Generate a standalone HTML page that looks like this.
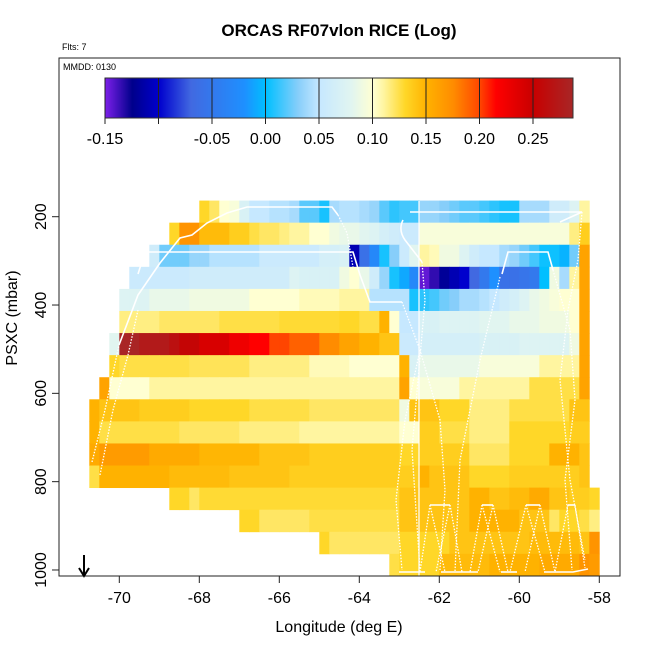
<!DOCTYPE html>
<html><head><meta charset="utf-8"><style>
body{margin:0;background:#fff}
svg text{font-family:"Liberation Sans",sans-serif}
</style></head><body>
<svg id="chart" width="650" height="650" viewBox="0 0 650 650" xmlns="http://www.w3.org/2000/svg">
<g id="cells"></g>
<g id="tracks" fill="none" stroke="#fff" stroke-width="1.6"></g>
<g id="axes"></g>
<g id="cbar"></g>
<text x="339" y="36" text-anchor="middle" font-size="17" font-weight="bold">ORCAS RF07vlon RICE (Log)</text>
<text x="62" y="50" font-size="9">Flts: 7</text>
<text x="63" y="70" font-size="9">MMDD: 0130</text>
<text x="339" y="632" text-anchor="middle" font-size="16">Longitude (deg E)</text>
<text transform="translate(17,318) rotate(-90)" text-anchor="middle" font-size="16">PSXC (mbar)</text>
</svg>
<script>
// Heatmap data: each row = [start column index, values...]; columns are 0.25 deg starting at -70.75; rows 50 mbar starting at 163.5
const lonStart = -70.75, lonStep = 0.25;
const presStart = 163.5, presStep = 50;
const row0 = [11,.13,.12,.10,.095,.07,.05,.05,.045,.045,.04,.02,.02,.005,.04,.045,.045,.04,.035,.02,.01,.015,.015,.035,.035,.03,.025,.02,.02,.015,.01,.005,.005,.04,.04,.04,.06,.06,.075,.11];
const row1 = [8,.13,.17,.17,.145,.145,.145,.135,.135,.125,.12,.12,.115,.11,.11,.1,.1,.09,.085,.085,.08,.075,.065,.06,.055,.055,.095,.095,.095,.095,.095,.095,.095,.095,.095,.095,.095,.095,.095,.095,.095,.115,.135];
const row2 = [6,.06,.025,.025,.025,.035,.035,.045,.045,.045,.045,.045,.055,.055,.055,.055,.055,.055,.065,.065,.07,-.11,-.06,-.03,.005,.03,.055,.08,.11,.105,.09,.09,.075,.06,.05,.05,.04,.035,.025,.015,.003,.003,-.005,.025,.16];
const row3 = [4,.055,.055,.055,.055,.055,.055,.06,.06,.06,.06,.06,.06,.06,.06,.06,.06,.075,.07,.07,.07,.07,.09,.1,.085,.06,.035,.005,-.01,-.03,-.145,-.135,-.12,-.11,-.1,-.07,-.05,-.02,-.06,-.06,-.055,-.05,.0,.09,.04,.11,.16];
const row4 = [3,.075,.075,.075,.085,.085,.085,.085,.09,.09,.09,.09,.09,.09,.1,.1,.1,.1,.1,.105,.105,.105,.105,.11,.11,.11,.045,.045,.045,.045,.005,.01,.015,.025,.03,.04,.04,.045,.05,.06,.065,.075,.085,.09,.095,.1,.1,.16];
const row5 = [3,.115,.115,.115,.115,.12,.12,.12,.12,.12,.12,.125,.125,.125,.125,.125,.125,.128,.128,.128,.128,.128,.128,.13,.13,.125,.125,.15,.1,.05,.05,.07,.07,.075,.075,.075,.075,.08,.08,.08,.085,.085,.085,.09,.09,.09,.1,.16];
const row6 = [2,.08,.285,.285,.275,.275,.275,.265,.255,.255,.24,.24,.24,.225,.225,.215,.215,.2,.2,.19,.19,.19,.175,.175,.16,.16,.15,.15,.14,.14,.055,.055,.065,.065,.065,.065,.065,.065,.07,.07,.07,.07,.075,.075,.075,.075,.075,.09,.16];
const row7 = [2,.13,.125,.125,.125,.125,.125,.125,.125,.122,.122,.122,.122,.122,.122,.115,.115,.115,.115,.115,.115,.105,.105,.105,.105,.1,.1,.1,.1,.1,.15,.07,.085,.085,.085,.085,.085,.085,.095,.095,.095,.095,.095,.095,.11,.11,.11,.11,.16];
const row8 = [1,.16,.1,.1,.1,.1,.11,.11,.11,.11,.11,.11,.11,.11,.11,.11,.11,.11,.11,.11,.11,.11,.11,.11,.11,.11,.11,.11,.11,.11,.11,.16,.1,.095,.095,.095,.095,.11,.11,.11,.11,.11,.11,.11,.125,.125,.125,.125,.125,.16];
const row9 = [0,.15,.14,.14,.14,.14,.135,.135,.135,.135,.135,.13,.13,.13,.13,.13,.13,.125,.125,.125,.125,.125,.125,.12,.12,.12,.12,.12,.12,.12,.12,.12,.09,.14,.14,.14,.13,.13,.13,.115,.115,.115,.115,.125,.125,.125,.125,.125,.125,.14,.14];
const row10 = [0,.15,.125,.125,.125,.125,.125,.125,.125,.125,.12,.12,.12,.12,.12,.12,.115,.115,.115,.115,.115,.115,.11,.11,.11,.11,.11,.11,.11,.11,.11,.11,.1,.1,.135,.135,.125,.125,.125,.115,.115,.115,.115,.13,.13,.13,.13,.13,.13,.135,.135];
const row11 = [0,.155,.165,.165,.165,.165,.165,.155,.155,.155,.155,.155,.148,.148,.148,.148,.148,.148,.14,.14,.14,.14,.14,.135,.135,.135,.135,.135,.135,.135,.135,.135,.13,.13,.135,.135,.135,.135,.135,.12,.12,.12,.12,.13,.13,.13,.13,.15,.15,.15,.14];
const row12 = [0,.125,.15,.15,.15,.15,.15,.15,.15,.145,.145,.145,.145,.145,.145,.14,.14,.14,.14,.14,.14,.135,.135,.135,.135,.135,.135,.135,.135,.135,.135,.135,.135,.135,.15,.14,.14,.14,.14,.13,.13,.13,.13,.135,.135,.135,.135,.135,.135,.135,.14];
const row13 = [8,.13,.13,.12,.128,.128,.128,.128,.128,.128,.128,.128,.128,.128,.128,.128,.128,.128,.128,.128,.128,.128,.128,.128,.14,.14,.14,.14,.14,.14,.14,.15,.15,.14,.14,.145,.145,.155,.155,.14,.14,.135,.135,.13];
const row14 = [15,.13,.13,.12,.12,.12,.12,.12,.125,.125,.125,.125,.125,.125,.125,.125,.125,.14,.14,.14,.14,.14,.14,.14,.15,.15,.15,.15,.15,.14,.14,.14,.12,.13,.13,.125,.115];
const row15 = [23,.13,.12,.12,.12,.12,.12,.12,.12,.13,.13,.13,.13,.13,.14,.14,.14,.14,.14,.14,.14,.14,.145,.145,.145,.145,.145,.14,.17];
const row16 = [30,.125,.13,.13,.13,.13,.145,.145,.145,.145,.145,.15,.15,.15,.15,.15,.155,.155,.155,.155,.17,.165];
const rows = [row0,row1,row2,row3,row4,row5,row6,row7,row8,row9,row10,row11,row12,row13,row14,row15,row16];
const xTicks = [-70,-68,-66,-64,-62,-60,-58];
const yTicks = [200,400,600,800,1000];
const cbTicks = [-0.15,-0.10,-0.05,0.00,0.05,0.10,0.15,0.20,0.25];
const cbLabels = ["-0.15","","-0.05","0.00","0.05","0.10","0.15","0.20","0.25"];

const NS="http://www.w3.org/2000/svg";
const xS = lon => 119.3 + (lon+70)*40;
const yS = p => 216.7 + (p-200)*0.4416;
const cbX = v => 105 + (v+0.15)*1070;
const stops=[[-0.15,[123,31,232]],[-0.125,[0,0,139]],[-0.10,[0,0,205]],[-0.07,[65,105,225]],[-0.02,[30,144,255]],[0.0,[0,191,255]],[0.03,[135,206,250]],[0.05,[198,232,255]],[0.08,[225,245,240]],[0.10,[255,255,210]],[0.11,[255,245,160]],[0.13,[255,215,40]],[0.15,[255,178,0]],[0.175,[255,140,0]],[0.20,[255,69,0]],[0.215,[255,0,0]],[0.25,[200,0,0]],[0.29,[165,42,42]]];
function col(v){
  if(v<=stops[0][0]) return 'rgb('+stops[0][1]+')';
  for(let i=1;i<stops.length;i++){ if(v<=stops[i][0]){const a=stops[i-1],b=stops[i];const t=(v-a[0])/(b[0]-a[0]);return 'rgb('+a[1].map((c,k)=>Math.round(c+(b[1][k]-c)*t)).join(',')+')';}}
  return 'rgb('+stops[stops.length-1][1]+')';
}
function mk(tag,attrs,parent){const e=document.createElementNS(NS,tag);for(const k in attrs)e.setAttribute(k,attrs[k]);parent.appendChild(e);return e;}

const cells=document.getElementById('cells');
rows.forEach((r,ri)=>{
  const y0=yS(presStart+ri*presStep), y1=yS(presStart+(ri+1)*presStep);
  for(let j=1;j<r.length;j++){
    const c=r[0]+j-1;
    const x0=xS(lonStart+c*lonStep), x1=xS(lonStart+(c+1)*lonStep);
    const e=mk('rect',{x:x0.toFixed(2),y:y0.toFixed(2),width:(x1-x0+0.4).toFixed(2),height:(y1-y0+0.4).toFixed(2),fill:col(r[j])},cells);
    
    
  }
});

// flight tracks (approximate)
const tr=document.getElementById('tracks');
const solid=[
 "M119,345 L138,295 L160,263 L180,238 L192,235 L207,223 L227,213 L247,207 L332,207 L338,215",
 "M138,274 L145,252 L353,252 L360,275 L370,302 L402,302",
 "M410,212 L582,212 L560,222",
 "M403,220 Q398,230 405,240 L422,262",
 "M502,274 L508,252 L548,252 L553,270",
 "M430,505 L450,505","M482,505 L493,505","M526,505 L540,505","M568,505 L575,505",
 "M399,572 L425,572","M441,572 L478,572","M501,572 L517,572","M544,572 L573,572 L588,569"
];
solid.forEach(d=>{const e=mk('path',{d:d},tr);});
const dotted=[
 "M92,462 L105,410 L119,345","M100,475 L113,410 L128,355 L138,310","M338,215 L347,233 L353,267",
 "M402,302 L420,350 L440,420 L445,490 L440,570","M420,350 L405,420 L396,500 L402,570",
 "M422,262 L425,300 L418,380 L412,450 L420,570",
 "M500,277 L480,360 L460,460 L455,572",
 "M553,270 L570,330 L575,400 L565,480 L572,570","M582,212 L578,260 L568,310 L560,380 L570,480 L585,560",
 "M430,505 L420,572","M430,505 L445,572","M450,505 L436,572","M450,505 L462,572",
 "M482,505 L470,572","M482,505 L500,572","M493,505 L478,572","M493,505 L508,572",
 "M526,505 L510,572","M526,505 L545,572","M540,505 L525,572","M540,505 L555,572",
 "M568,505 L555,572","M575,505 L585,568"
];
dotted.forEach(d=>{const e=mk('path',{d:d,'stroke-dasharray':'1.5,1.5','stroke-width':'1.3'},tr);});
const vl=mk('line',{x1:419,y1:201,x2:419,y2:576,'stroke-width':'1.2'},tr);



// axes
const ax=document.getElementById('axes');
const fr=mk('rect',{x:59,y:58,width:561,height:518,fill:'none',stroke:'#222','stroke-width':1},ax);


xTicks.forEach(v=>{
  const x=xS(v);
  const t=mk('line',{x1:x,y1:576,x2:x,y2:583,stroke:'#222'},ax);
  
  
  const l=mk('text',{x:x,y:603,'text-anchor':'middle','font-size':16},ax);l.textContent=String(v).replace('-','-');
  
  
});
yTicks.forEach(v=>{
  const y=yS(v);
  const t=mk('line',{x1:52,y1:y,x2:59,y2:y,stroke:'#222'},ax);
  
  
  const l=mk('text',{transform:'translate(46,'+y+') rotate(-90)','text-anchor':'middle','font-size':16},ax);l.textContent=v;
  
  
});
const arr=mk('path',{d:'M84,555 L84,575 M79,568 L84,576 L89,568',stroke:'#000','stroke-width':2,fill:'none'},ax);



// colorbar
const cb=document.getElementById('cbar');
for(let x=105;x<573;x+=1){
  const v=-0.15+(x-105)/1070;
  const r=mk('rect',{x:x,y:78,width:1.2,height:40,fill:col(v)},cb);
  
  
}
const cbf=mk('rect',{x:105,y:78,width:468,height:40,fill:'none',stroke:'#333'},cb);


cbTicks.forEach((v,i)=>{
  const x=cbX(v);
  const d=mk('line',{x1:x,y1:78,x2:x,y2:124,stroke:'#222'},cb);
  
  
  if(cbLabels[i]){const l=mk('text',{x:x,y:144,'text-anchor':'middle','font-size':16},cb);l.textContent=cbLabels[i];
  
  }
});
</script>
</body></html>
